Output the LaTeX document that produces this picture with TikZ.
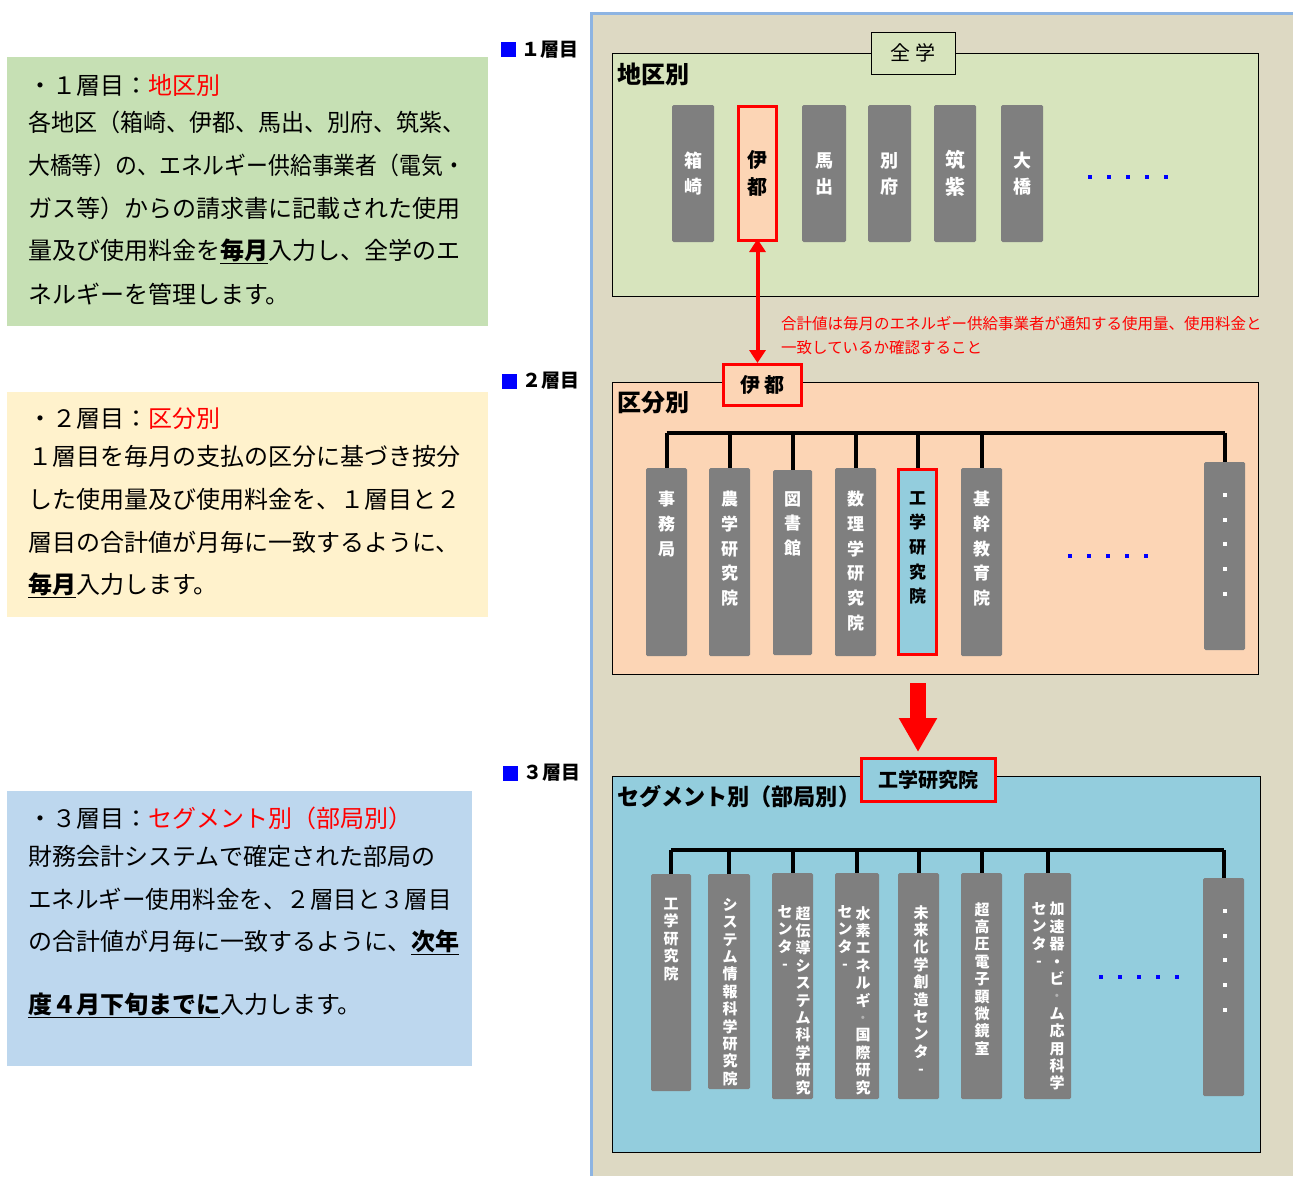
\documentclass[tikz,border=0pt]{standalone}
\usepackage{fontspec}
\setmainfont{Noto Sans CJK JP}
\usetikzlibrary{arrows.meta}
\definecolor{panelbg}{HTML}{DDD9C3}
\definecolor{panelline}{HTML}{8DB4E2}
\definecolor{lgreen}{HTML}{D7E4BD}
\definecolor{lpeach}{HTML}{FCD5B5}
\definecolor{lblue}{HTML}{93CDDD}
\definecolor{boxgreen}{HTML}{C6E0B4}
\definecolor{boxyellow}{HTML}{FFF2CC}
\definecolor{boxblue}{HTML}{BDD7EE}
\definecolor{barg}{HTML}{7F7F7F}
\definecolor{dotblue}{HTML}{0000FF}
\definecolor{redc}{HTML}{FF0000}
\begin{document}
\begin{tikzpicture}[x=1pt,y=-1pt,
  bar/.style={fill=barg, rounded corners=1.5pt, inner sep=0, draw=none},
  redbar/.style={draw=redc, line width=3pt, inner sep=0},
  vt/.style={font=\bfseries\fontsize{17}{24.7}\selectfont, align=center, inner sep=0, anchor=north, text=white},
  vs/.style={font=\bfseries\fontsize{15}{17.4}\selectfont, align=center, inner sep=0, anchor=north, text=white},
  lt/.style={font=\fontsize{24}{28}\selectfont, anchor=west, inner sep=0},
  ttl/.style={font=\bfseries\fontsize{24}{28}\selectfont, anchor=west, inner sep=0},
  layer/.style={font=\bfseries\fontsize{19}{22}\selectfont, anchor=west, inner sep=0},
  bus/.style={line width=4pt, black},
  hdr/.style={inner sep=0, font=\bfseries\fontsize{20}{24}\selectfont},
  bdot/.style={fill=dotblue},
  wdot/.style={fill=white},
  note/.style={font=\fontsize{15.5}{18}\selectfont, text=redc, anchor=west, inner sep=0}
]
\useasboundingbox (0,0) rectangle (1293,1176);
\fill[white] (0,0) rectangle (1293,1176);

% ---------- right panel ----------
\fill[panelbg] (591,13) rectangle (1293,1176);
\draw[panelline, line width=3pt] (591,1176) -- (591,13) -- (1293,13);

% ---------- left boxes ----------
\fill[boxgreen] (7,57) rectangle (488,326);
\fill[boxyellow] (7,392) rectangle (488,617);
\fill[boxblue] (7,791) rectangle (472,1066);

\node[lt] (a1) at (28,85) {・１層目：\textcolor{redc}{地区別}};
\node[lt] (a2) at (28,122) {\scalebox{0.96}[1]{各地区（箱崎、伊都、馬出、別府、筑紫、}};
\node[lt] (a3) at (28,165) {\scalebox{0.91}[1]{大橋等）の、エネルギー供給事業者（電気・}};
\node[lt] (a4) at (28,208) {ガス等）からの請求書に記載された使用};
\node[lt] (a5) at (28,251) {量及び使用料金を\underline{\textbf{毎月}}入力し、全学のエ};
\node[lt] (a6) at (28,294) {ネルギーを管理します。};

\node[lt] (b1) at (28,419) {・２層目：\textcolor{redc}{区分別}};
\node[lt] (b2) at (28,456) {１層目を毎月の支払の区分に基づき按分};
\node[lt] (b3) at (28,499) {した使用量及び使用料金を、１層目と２};
\node[lt] (b4) at (28,542) {層目の合計値が月毎に一致するように、};
\node[lt] (b5) at (28,585) {\underline{\textbf{毎月}}入力します。};

\node[lt] (c1) at (28,818) {・３層目：\textcolor{redc}{セグメント別（部局別）}};
\node[lt] (c2) at (28,856) {財務会計システムで確定された部局の};
\node[lt] (c3) at (28,899) {\scalebox{0.98}[1]{エネルギー使用料金を、２層目と３層目}};
\node[lt] (c4) at (28,942) {の合計値が月毎に一致するように、\underline{\textbf{次年}}};
\node[lt] (c5) at (28,1005) {\underline{\textbf{度４月下旬までに}}入力します。};

% ---------- layer labels ----------
\fill[dotblue] (501,42) rectangle (516,57);
\node[layer] (l1) at (521,50) {１層目};
\fill[dotblue] (502,374) rectangle (517,389);
\node[layer] (l2) at (522,381) {２層目};
\fill[dotblue] (503,766) rectangle (518,781);
\node[layer] (l3) at (523,773) {３層目};

% ---------- layer 1 ----------
\draw[fill=lgreen, draw=black, line width=0.8pt] (612,53) rectangle (1258,296);
\node[draw=black, line width=0.8pt, fill=lgreen, minimum width=84, minimum height=42, inner sep=0,
  font=\fontsize{20}{24}\selectfont] (zen) at (913,53) {全 学};
\node[ttl] (t1) at (617,74) {地区別};

\begin{scope}[every node/.append style={font=\bfseries\fontsize{18}{26}\selectfont, align=center, text=white, minimum height=137}]
\node[bar, minimum width=42] (h1) at (693,173.5) {箱\\崎};
\node[redbar, fill=lpeach, minimum width=38, minimum height=134, text=black, font=\bfseries\fontsize{20}{27}\selectfont] (h2) at (757.5,173.5) {伊\\都};
\node[bar, minimum width=44] (h3) at (824,173.5) {馬\\出};
\node[bar, minimum width=43] (h4) at (889.5,173.5) {別\\府};
\node[bar, minimum width=42, font=\bfseries\fontsize{20}{27}\selectfont] (h5) at (955,173.5) {筑\\紫};
\node[bar, minimum width=42] (h6) at (1022,173.5) {大\\橋};
\end{scope}
\foreach \i/\x in {1/1090,2/1109,3/1128,4/1147,5/1166}
  \fill[bdot] (\x-2,175) rectangle (\x+2,179);

% note
\node[note] (n1) at (781,324) {合計値は毎月のエネルギー供給事業者が通知する使用量、使用料金と};
\node[note] (n2) at (781,348) {一致しているか確認すること};

% ---------- layer 2 ----------
\draw[fill=lpeach, draw=black, line width=0.8pt] (612,382) rectangle (1258,674);
\node[hdr, draw=redc, line width=3pt, fill=lpeach, minimum width=78, minimum height=41] (ito) at (762.5,385) {伊 都};
\node[ttl] (t2) at (617,403) {区分別};

\draw[redc, line width=4pt, {Triangle[width=16pt,length=13pt]}-{Triangle[width=16pt,length=13pt]}] ([yshift=3pt]h2.south) -- (ito.north -| h2.south);

\node[bar, minimum width=41, minimum height=188] (k1) at (666.5,562) {};
\node[bar, minimum width=41, minimum height=188] (k2) at (729.5,562) {};
\node[bar, minimum width=39, minimum height=185] (k3) at (792.5,562.5) {};
\node[bar, minimum width=41, minimum height=188] (k4) at (855.5,562) {};
\node[redbar, fill=lblue, minimum width=38, minimum height=185] (k5) at (917.5,562) {};
\node[bar, minimum width=41, minimum height=188] (k6) at (981.5,562) {};
\node[bar, minimum width=41, minimum height=188] (k7) at (1224.5,556) {};

\coordinate (busL2) at (0,433);
\draw[bus] (k1.north |- busL2) -- (k7.north |- busL2);
\foreach \k in {k1,k2,k3,k4,k5,k6,k7}
  \draw[bus] (\k.north |- busL2) -- (\k.north);

\node[vt] (tk1) at (666.5,491) {事\\務\\局};
\node[vt] (tk2) at (729.5,491) {農\\学\\研\\究\\院};
\node[vt] (tk3) at (792.5,491) {図\\書\\館};
\node[vt] (tk4) at (855.5,491) {数\\理\\学\\研\\究\\院};
\node[vt, text=black] (tk5) at (917.5,491) {工\\学\\研\\究\\院};
\node[vt] (tk6) at (981.5,491) {基\\幹\\教\\育\\院};
\foreach \y in {495,520,544,569,594}
  \fill[wdot] (1223,\y-2) rectangle (1227,\y+2);
\foreach \x in {1070,1089,1108,1127,1146}
  \fill[bdot] (\x-2,554) rectangle (\x+2,558);

% big red arrow
\coordinate (ba1) at (918,683);
\coordinate (ba2) at (918,752);
\draw[redc, line width=16pt, -{Triangle[width=36pt,length=34pt]}] (ba1) -- (ba2);

% ---------- layer 3 ----------
\draw[fill=lblue, draw=black, line width=0.8pt] (612,776) rectangle (1260,1152);
\node[hdr, draw=redc, line width=3pt, fill=lblue, minimum width=134, minimum height=43] (kog) at (928.5,780) {工学研究院};
\node[ttl, font=\bfseries\fontsize{23}{28}\selectfont] (t3) at (617,797) {\scalebox{0.96}[1]{セグメント別（部局別）}};

\node[bar, minimum width=40, minimum height=217] (s1) at (671,982.5) {};
\node[bar, minimum width=42, minimum height=215] (s2) at (729,981.5) {};
\node[bar, minimum width=41, minimum height=226] (s3) at (792.5,986) {};
\node[bar, minimum width=44, minimum height=226] (s4) at (857,986) {};
\node[bar, minimum width=41, minimum height=226] (s5) at (918.5,986) {};
\node[bar, minimum width=41, minimum height=226] (s6) at (981.5,986) {};
\node[bar, minimum width=47, minimum height=226] (s7) at (1047.5,986) {};
\node[bar, minimum width=41, minimum height=218] (s8) at (1223.5,987) {};

\coordinate (busL3) at (0,850);
\draw[bus] (s1.north |- busL3) -- (s8.north |- busL3);
\foreach \s in {s1,s2,s3,s4,s5,s6,s7,s8}
  \draw[bus] (\s.north |- busL3) -- (\s.north);

\node[vs] (ts1) at (671,898) {工\\学\\研\\究\\院};
\node[vs] (ts2) at (730,898) {シ\\ス\\テ\\ム\\情\\報\\科\\学\\研\\究\\院};
\node[vs] (ts3a) at (803,906) {超\\伝\\導\\シ\\ス\\テ\\ム\\科\\学\\研\\究};
\node[vs] (ts3b) at (785,905) {セ\\ン\\タ\\-};
\node[vs] (ts4a) at (863,906) {水\\素\\エ\\ネ\\ル\\ギ\\\textcolor{gray!60}{·}\\国\\際\\研\\究};
\node[vs] (ts4b) at (845,905) {セ\\ン\\タ\\-};
\node[vs] (ts5) at (921,905) {未\\来\\化\\学\\創\\造\\セ\\ン\\タ\\-};
\node[vs] (ts6) at (982,902) {超\\高\\圧\\電\\子\\顕\\微\\鏡\\室};
\node[vs] (ts7a) at (1057,902) {加\\速\\器\\・\\ビ\\\textcolor{gray!60}{·}\\ム\\応\\用\\科\\学};
\node[vs] (ts7b) at (1039,902) {セ\\ン\\タ\\-};
\foreach \y in {911,936,960,985,1010}
  \fill[wdot] (1223,\y-2) rectangle (1227,\y+2);
\foreach \x in {1101,1120,1139,1158,1177}
  \fill[bdot] (\x-2,975) rectangle (\x+2,979);
\end{tikzpicture}
\end{document}
